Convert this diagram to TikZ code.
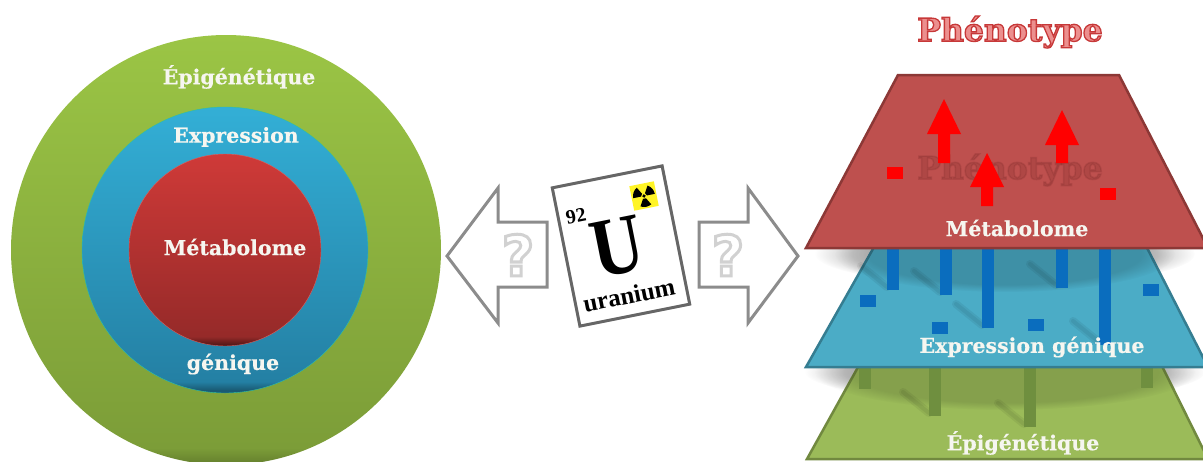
\documentclass[tikz,border=0pt]{standalone}
\usepackage{fontspec}
\usetikzlibrary{fadings}

\newfontfamily\labelfont{DejaVu Serif}[BoldFont = DejaVu Serif Bold, BoldFeatures = {FakeBold = 0.4}]
\newfontfamily\titlefont{DejaVu Serif Bold}
\newfontfamily\cardfont{Liberation Serif}[BoldFont = Liberation Serif Bold]
\newfontfamily\markfont{DejaVu Sans Bold}

\definecolor{greencirc}{HTML}{9BC545}
\definecolor{greenlow}{HTML}{7C9D38}
\definecolor{bluecirc}{HTML}{33AFD6}
\definecolor{bluelow}{HTML}{2480A4}
\definecolor{redcirc}{HTML}{CF3A38}
\definecolor{redlow}{HTML}{962A29}
\definecolor{redtrap}{HTML}{BE504E}
\definecolor{redline}{HTML}{8C3836}
\definecolor{bluetrap}{HTML}{4BACC6}
\definecolor{blueline}{HTML}{357D91}
\definecolor{greentrap}{HTML}{9BBB59}
\definecolor{greenline}{HTML}{71893F}
\definecolor{barblue}{HTML}{0A6DBE}
\definecolor{bargreen}{HTML}{6F8F3F}
\definecolor{labelwhite}{HTML}{F6F6F0}
\definecolor{titlefill}{HTML}{EC8F8E}
\definecolor{ghostred}{rgb}{0.35, 0.08, 0.08}

\newcommand{\outlined}[1]{\special{pdf:code q 2 Tr 0.82 0.82 0.82 RG 3 w}#1\special{pdf:code Q}}
\newcommand{\titled}[1]{\special{pdf:code q 2 Tr 0.78 0.22 0.22 RG 1.3 w}#1\special{pdf:code Q}}
\newcommand{\smudged}[1]{\special{pdf:code q 2 Tr 0.35 0.08 0.08 RG 1.5 w}#1\special{pdf:code Q}}

\pgfdeclareverticalshading{greenball}{100bp}{color(0bp)=(greenlow!85!black); color(25.5bp)=(greenlow!85!black); color(27bp)=(greenlow); color(75bp)=(greencirc); color(100bp)=(greencirc)}
\pgfdeclareverticalshading{blueball}{100bp}{color(0bp)=(bluelow!70!black); color(25.5bp)=(bluelow!70!black); color(27bp)=(bluelow); color(75bp)=(bluecirc); color(100bp)=(bluecirc)}
\pgfdeclareverticalshading{redball}{100bp}{color(0bp)=(redlow!60!black); color(25.5bp)=(redlow!60!black); color(27.5bp)=(redlow); color(75bp)=(redcirc); color(100bp)=(redcirc)}

\tikzset{
	lab/.style = {font = \labelfont\bfseries\fontsize{20.5}{20.5}\selectfont, text = labelwhite, inner sep = 0},
	smallmark/.style = {minimum width = 16, minimum height = 12, inner sep = 0},
	softshadow/.style = {fill = black, path fading = circle with fuzzy edge 20 percent},
	streak/.style = {draw = black, opacity = 0.06, line cap = round}
}

\begin{document}
\begin{tikzpicture}[x = 1pt, y = -1pt]

	\useasboundingbox (0, 0) rectangle (1203, 461);
	\clip (0, 0) rectangle (1203, 461);

	% Nested circles

	\shade [shading = greenball] (226, 250) circle [radius = 215];
	\shade [shading = blueball, draw = bluecirc!80!green] (225, 250) circle [radius = 143];
	\shade [shading = redball, draw = redcirc!80!white] (225, 250) circle [radius = 96];

	\node [lab] (epicirc) at (239, 77) {Épigénétique};
	\node [lab] (exprcirc) at (236, 137) {Expression};
	\node [lab] (metacirc) at (235, 247) {Métabolome};
	\node [lab] (genecirc) at (233, 364) {génique};

	% Hollow arrows with question marks

	\draw [draw = black!45, line width = 3, fill = white, line join = miter]
		(447, 256) -- (498, 188) -- (498, 222) -- (547, 222) -- (547, 287) -- (498, 287) -- (498, 323) -- cycle;
	\draw [draw = black!45, line width = 3, fill = white, line join = miter]
		(798, 256) -- (748, 188) -- (748, 222) -- (699, 222) -- (699, 287) -- (748, 287) -- (748, 323) -- cycle;

	\foreach \n/\x in {left/518, right/728}
		\node [font = \markfont\fontsize{56}{56}\selectfont, text = white, inner sep = 0] (mark\n) at (\x, 255) {\outlined{?}};

	% Element card

	\node [draw = black!60, line width = 3, fill = white, rotate = 11.3, minimum width = 112, minimum height = 141, inner sep = 0] (card) at (621, 246) {};
	\node [font = \cardfont\bfseries\fontsize{20}{20}\selectfont, rotate = 11.3, inner sep = 0] (number) at (576, 216) {92};
	\node [font = \cardfont\bfseries\fontsize{84}{84}\selectfont, rotate = 11.3, xscale = 0.85, inner sep = 0] (symbol) at (617, 247) {U};
	\node [font = \cardfont\bfseries\fontsize{25}{25}\selectfont, rotate = 11.3, inner sep = 0] (element) at (629, 295) {uranium};

	% Radiation sign

	\begin{scope}[shift = {(644, 196)}, rotate = 11.3]
		\fill [yellow!85!white] (-12.5, -12.5) rectangle (12.5, 12.5);
		\fill (0, 0) circle [radius = 1.8];
		\foreach \a in {90, 210, 330}
			\fill (\a - 30:3) -- (\a - 30:11) arc [start angle = \a - 30, end angle = \a + 30, radius = 11] -- (\a + 30:3) -- cycle;
	\end{scope}

	% Title

	\node [font = \titlefont\fontsize{31.5}{31.5}\selectfont, text = titlefill, inner sep = 0] (title) at (1010, 32) {\titled{Phénotype}};

	% Soft shadows on the white page

	\fill [softshadow, opacity = 0.2] (1005, 372) ellipse [x radius = 200, y radius = 30];
	\fill [softshadow, opacity = 0.2] (1005, 254) ellipse [x radius = 190, y radius = 32];

	% Green layer

	\draw [fill = greentrap, draw = greenline, line width = 2.5]
		(862, 360) -- (807, 459) -- (1208, 459) -- (1159, 360) -- cycle;
	\fill [softshadow, opacity = 0.14] (1005, 372) ellipse [x radius = 190, y radius = 38];
	\foreach \x/\y in {935/416, 1030/427}
		\foreach \w in {4, 8}
			\draw [streak, line width = \w] (\x - 6, \y - 3) -- (\x - 32, \y - 24);
	\foreach \x/\y in {865/389, 935/416, 1030/427, 1147/388}
		\fill [bargreen] (\x - 6, 365) rectangle (\x + 6, \y);

	% Blue layer

	\draw [fill = bluetrap, draw = blueline, line width = 2.5]
		(878, 240) -- (806, 367) -- (1208, 367) -- (1143, 240) -- cycle;
	\fill [softshadow, opacity = 0.16] (1005, 254) ellipse [x radius = 170, y radius = 38];
	\foreach \x/\y in {893/290, 946/295, 988/328, 1062/288, 1105/345}
	{
		\foreach \w in {4, 8}
			\draw [streak, line width = \w] (\x - 6, \y - 3) -- (\x - 32, \y - 24);
		\fill [barblue] (\x - 6, 246) rectangle (\x + 6, \y);
	}
	\foreach \n/\x/\y in {a/868/301, b/940/328, c/1036/325, d/1151/290}
		\node [smallmark, fill = barblue] (bluemark\n) at (\x, \y) {};

	% Red layer

	\draw [fill = redtrap, draw = redline, line width = 2.5, line join = miter]
		(898, 75) -- (806, 248) -- (1208, 248) -- (1119, 75) -- cycle;

	% Smudged copy of the title, then the arrows over it

	\node [font = \titlefont\fontsize{31.5}{31.5}\selectfont, text = ghostred, opacity = 0.14, inner sep = 0] (ghost) at (1010, 170) {\smudged{Phénotype}};

	\foreach \x/\t/\b/\s in {944/99/134/163, 1062/110/145/163, 987/153/187/206}
		\fill [red] (\x, \t) -- (\x + 17, \b) -- (\x + 6, \b) -- (\x + 6, \s) -- (\x - 6, \s) -- (\x - 6, \b) -- (\x - 17, \b) -- cycle;
	\foreach \n/\x/\y in {a/895/173, b/1108/194}
		\node [smallmark, fill = red] (redmark\n) at (\x, \y) {};

	% Layer labels

	\node [lab] (metatrap) at (1017, 228) {Métabolome};
	\node [lab] (exprtrap) at (1032, 347) {Expression génique};
	\node [lab] (epitrap) at (1023, 443) {Épigénétique};

\end{tikzpicture}
\end{document}
